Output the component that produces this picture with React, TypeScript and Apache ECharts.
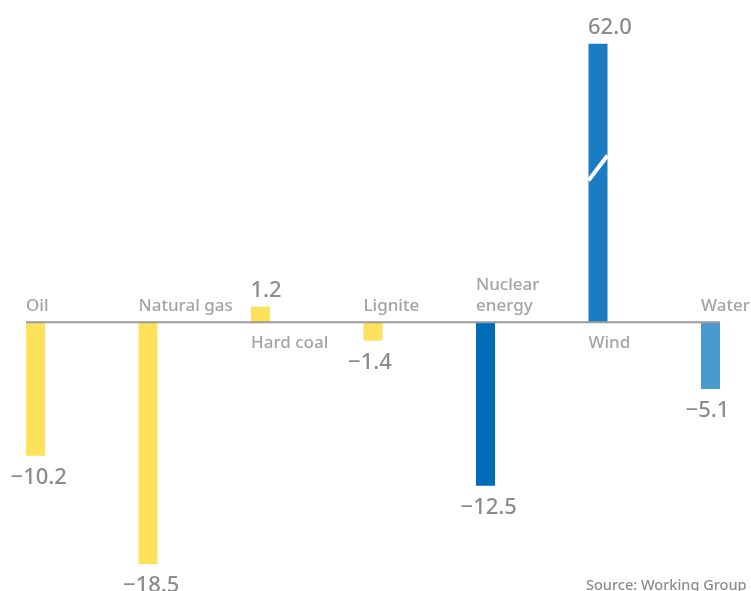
import React, { useEffect, useRef } from "react";
import * as echarts from "echarts";

const categories = ["Oil", "Natural gas", "Hard coal", "Lignite", "Nuclear energy", "Wind", "Water"];
const categoryLabels = ["Oil", "Natural gas", "Hard coal", "Lignite", "Nuclear\nenergy", "Wind", "Water"];
const values = [-10.2, -18.5, 1.2, -1.4, -12.5, 62.0, -5.1];
const colors = ["#FFE15B", "#FFE15B", "#FFE15B", "#FFE15B", "#006BB6", "#1B7DC1", "#4B9ACF"];
const sourceText = "Source: Working Group";
const brokenCategory = "Wind";
const breakAt = 11.8;

const FONT = "Noto Sans";
const GRAY = "#8c8c8c";
const BAR_W = 19;
const WEIGHT = 500;

function fmt(v: number): string {
  return v < 0 ? "\u2212" + Math.abs(v).toFixed(1) : v.toFixed(1);
}

export default function App() {
  const ref = useRef<HTMLDivElement>(null);
  useEffect(() => {
    const chart = echarts.init(ref.current!, null, { renderer: "svg" });
    chart.setOption({
      animation: false,
      textStyle: { fontFamily: FONT },
      grid: {
        left: -20.75,
        right: -15.75,
        top: 43.7,
        height: 540.2,
        containLabel: false,
        outerBoundsMode: "none",
      },
      xAxis: { type: "category", data: categories, show: false },
      yAxis: { type: "value", min: -20, max: 21.3, show: false },
      series: [
        {
          type: "bar",
          barWidth: BAR_W,
          clip: true,
          data: values.map((v, i) => ({
            value: v,
            itemStyle: { color: colors[i] },
            label: {
              position: v >= 0 ? "top" : "bottom",
              offset: [v >= 0 ? -10 : -25, 0],
            },
          })),
          label: {
            show: true,
            align: "left",
            distance: 8,
            fontSize: 22,
            fontWeight: WEIGHT,
            fontFamily: FONT,
            color: GRAY,
            formatter: (p: any) => fmt(values[p.dataIndex]),
          },
        },
        {
          type: "scatter",
          symbolSize: 1,
          silent: true,
          itemStyle: { color: "rgba(0,0,0,0)" },
          data: categories.map((c, i) => ({
            value: [c, 0],
            label: {
              position: values[i] >= 0 ? "bottom" : "top",
              distance: values[i] >= 0 ? 8 : 7,
            },
          })),
          label: {
            show: true,
            align: "left",
            offset: [-BAR_W / 2, 0],
            fontSize: 17,
            fontWeight: WEIGHT,
            lineHeight: 21,
            fontFamily: FONT,
            color: GRAY,
            formatter: (p: any) => categoryLabels[p.dataIndex],
          },
        },
      ],
    });

    const first = chart.convertToPixel({ seriesIndex: 0 }, [categories[0], 0]) as number[];
    const last = chart.convertToPixel({ seriesIndex: 0 }, [categories[categories.length - 1], 0]) as number[];
    const brk = chart.convertToPixel({ seriesIndex: 0 }, [brokenCategory, breakAt]) as number[];
    chart.setOption({
      graphic: [
        {
          type: "line",
          z: 100,
          shape: { x1: first[0] - BAR_W / 2, y1: first[1], x2: last[0] + BAR_W / 2, y2: last[1] },
          style: { stroke: "#9a9a9a", lineWidth: 2 },
        },
        {
          type: "line",
          z: 100,
          shape: { x1: brk[0] - BAR_W / 2, y1: brk[1] + 12.5, x2: brk[0] + BAR_W / 2, y2: brk[1] - 12.5 },
          style: { stroke: "#ffffff", lineWidth: 4 },
        },
        {
          type: "text",
          z: 100,
          x: 586,
          y: 584,
          style: {
            text: sourceText,
            fill: GRAY,
            fontSize: 14.5,
            fontWeight: WEIGHT,
            fontFamily: FONT,
            align: "left",
            verticalAlign: "middle",
          },
        },
      ],
    });
    return () => chart.dispose();
  }, []);
  return <div ref={ref} style={{ position: "fixed", left: 0, top: 0, width: 751, height: 591 }} />;
}
